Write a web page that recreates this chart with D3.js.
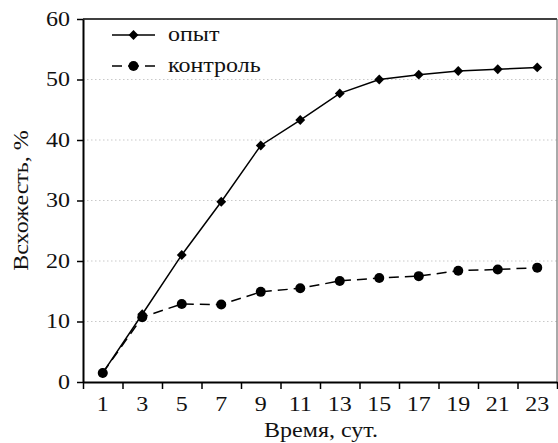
<!DOCTYPE html>
<html>
<head>
<meta charset="utf-8">
<script src="https://cdn.jsdelivr.net/npm/d3@7"></script>
</head>
<body style="margin:0">
<script>
// days (odd), values in %
var days = [1, 3, 5, 7, 9, 11, 13, 15, 17, 19, 21, 23]
var opyt = [1.5, 11.2, 21, 29.8, 39.1, 43.3, 47.7, 50, 50.8, 51.4, 51.7, 52]
var kontrol = [1.5, 10.7, 12.9, 12.8, 14.9, 15.5, 16.7, 17.2, 17.5, 18.4, 18.6, 18.9]
var seriesNames = ['опыт', 'контроль']
var yTicks = [0, 10, 20, 30, 40, 50, 60]
var xMajor = [0, 2, 4, 6, 8, 10, 12, 14, 16, 18, 20, 22, 24]

var W = 558, H = 443
var m = {left: 83, right: 1, top: 19, bottom: 61}

var svg = d3.select('body').append('svg')
  .attr('width', W).attr('height', H)

var x = d3.scaleLinear().domain([0, 24]).range([m.left, W - m.right])
var y = d3.scaleLinear().domain([0, 60]).range([H - m.bottom, m.top])

// grid
svg.append('g').selectAll('line').data(yTicks.filter(d => d > 0 && d < 60))
  .join('line')
  .attr('x1', x(0)).attr('x2', x(24))
  .attr('y1', d => y(d)).attr('y2', d => y(d))
  .attr('stroke', '#bbb').attr('stroke-width', 0.8).attr('stroke-dasharray', '1.5,2.5')

// frame top / right
svg.append('line').attr('x1', x(0)).attr('x2', x(24)).attr('y1', y(60)).attr('y2', y(60))
  .attr('stroke', '#000').attr('stroke-width', 1.5)
svg.append('line').attr('x1', x(24)).attr('x2', x(24)).attr('y1', y(60)).attr('y2', y(0))
  .attr('stroke', '#555').attr('stroke-width', 1)

// y axis
var yAxis = svg.append('g').attr('transform', `translate(${x(0)},0)`)
  .call(d3.axisLeft(y).tickValues(yTicks).tickSize(6).tickSizeOuter(0).tickPadding(7))
yAxis.select('.domain').attr('stroke-width', 2)
yAxis.selectAll('.tick line').attr('stroke-width', 1.5)

// x axis: ticks at even days, labels at odd days
var xAxis = svg.append('g').attr('transform', `translate(0,${y(0)})`)
  .call(d3.axisBottom(x).tickValues(xMajor).tickSize(7).tickSizeOuter(0).tickFormat(''))
xAxis.select('.domain').attr('stroke-width', 2)
xAxis.selectAll('.tick line').attr('stroke-width', 1.5)

svg.append('g').selectAll('text').data(days).join('text')
  .attr('x', d => x(d)).attr('y', y(0) + 29)
  .attr('text-anchor', 'middle')
  .text(d => d)

// axis titles
svg.append('text').attr('x', (x(0) + x(24)) / 2 + 1).attr('y', 437)
  .attr('text-anchor', 'middle').text('Время, сут.')
svg.append('text')
  .attr('transform', `translate(28,${(y(0) + y(60)) / 2}) rotate(-90)`)
  .attr('text-anchor', 'middle')
  .text('Всхожесть, %')

var line = d3.line().x((d, i) => x(days[i])).y(d => y(d))

svg.append('path').datum(kontrol).attr('d', line)
  .attr('fill', 'none').attr('stroke', '#000').attr('stroke-width', 1.5)
  .attr('stroke-dasharray', '10,6')
svg.append('path').datum(opyt).attr('d', line)
  .attr('fill', 'none').attr('stroke', '#000').attr('stroke-width', 1.5)

var diamond = d3.symbol().type(d3.symbolDiamond2).size(62)
svg.append('g').selectAll('circle').data(kontrol).join('circle')
  .attr('cx', (d, i) => x(days[i])).attr('cy', d => y(d)).attr('r', 5)
svg.append('g').selectAll('path').data(opyt).join('path')
  .attr('d', diamond)
  .attr('transform', (d, i) => `translate(${x(days[i])},${y(d)})`)

// legend
var lg = svg.append('g').attr('transform', 'translate(112,35)')
var rows = lg.selectAll('g').data(seriesNames).join('g')
  .attr('transform', (d, i) => `translate(0,${i * 31})`)
rows.append('line').attr('x1', 0).attr('x2', 43)
  .attr('stroke', '#000').attr('stroke-width', 1.5)
  .attr('stroke-dasharray', (d, i) => i ? '10,6,11,6,10' : null)
rows.filter((d, i) => i == 0).append('path').attr('d', diamond).attr('transform', 'translate(21.5,0)')
rows.filter((d, i) => i == 1).append('circle').attr('cx', 21.5).attr('r', 5)
rows.append('text').attr('x', 56).attr('y', 6).attr('text-anchor', 'start').text(d => d)

// all text: serif, a bit wider like the book face of the original
svg.selectAll('text')
  .style('font-family', '"Liberation Serif"').style('font-size', '20px').style('fill', '#111')
  .each(function(){
    var w = this.getComputedTextLength()
    d3.select(this).attr('textLength', w * 1.2).attr('lengthAdjust', 'spacingAndGlyphs')
  })
</script>
</body>
</html>
